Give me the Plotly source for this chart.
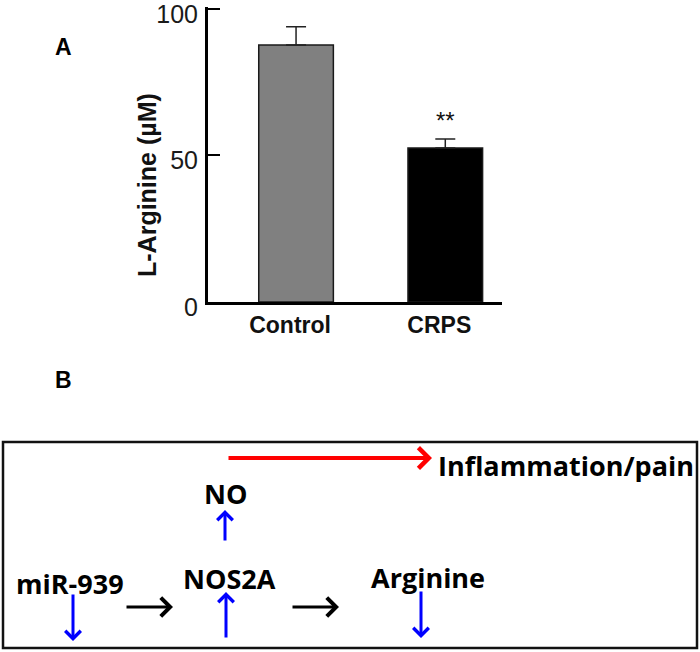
import plotly.graph_objects as go

# ---------------- data ----------------
categories = ["Control", "CRPS"]
values = [87.7, 52.6]
errors_up = [6.2, 3.0]
bar_colors = ["#808080", "#000000"]
y_tickvals = [0, 50, 100]
y_ticktext = ["0", "50", "100"]
y_title = "L-Arginine (µM)"
significance = "**"

W, H = 700, 652
ML, MR, MT, MB = 0, 0, 0, 0

def px(x):
    return (x - ML) / (W - ML - MR)

def py(y):
    return 1 - (y - MT) / (H - MT - MB)

fig = go.Figure()

fig.add_trace(go.Bar(
    x=categories,
    y=values,
    width=0.5,
    marker=dict(color=bar_colors, line=dict(color="#1a1a1a", width=1.5)),
    error_y=dict(type="data", array=errors_up, arrayminus=[0, 0], symmetric=False,
                 color="#222222", thickness=1.5, width=10),
    showlegend=False,
))

axis_font = dict(family="Liberation Sans, Arial, sans-serif", color="#1a1a1a")

y_top_val = 100.7
y0_px, y100_px = 302, 9
ytop_px = y0_px - (y0_px - y100_px) * y_top_val / 100

fig.update_layout(
    width=W, height=H,
    margin=dict(l=ML, r=MR, t=MT, b=MB),
    paper_bgcolor="white", plot_bgcolor="white",
    xaxis=dict(
        domain=[px(208), px(502)],
        range=[-0.59, 1.38],
        showline=True, linecolor="#000000", linewidth=3,
        ticks="", showgrid=False, zeroline=False,
        tickfont=dict(size=23, family="Liberation Sans, Arial, sans-serif", color="#111111", weight="bold"),
        ticklabelstandoff=0, ticklabelshift=-6,
        automargin=False,
    ),
    yaxis=dict(
        domain=[py(y0_px), min(1.0, py(ytop_px))],
        range=[0, y_top_val],
        showline=True, linecolor="#000000", linewidth=3,
        ticks="inside", ticklen=12, tickwidth=2, tickcolor="#000000",
        tickvals=y_tickvals, ticktext=y_ticktext,
        tickfont=dict(size=25, **axis_font),
        ticklabeloverflow="allow",
        showgrid=False, zeroline=False,
        ticklabelstandoff=2, ticklabelshift=5,
        automargin=False,
    ),
)

annotations = []
annotations.append(dict(text=f"<b>{y_title}</b>", xref="paper", yref="paper",
                        x=px(147), y=py(185), textangle=-90, showarrow=False,
                        xanchor="center", yanchor="middle",
                        font=dict(size=25, family="Liberation Sans, Arial, sans-serif", color="#111111")))
annotations.append(dict(text=significance, xref="x", yref="y", x="CRPS", y=62,
                        showarrow=False, xanchor="center", yanchor="middle",
                        font=dict(size=24, family="Liberation Sans, Arial, sans-serif", color="#111111")))
for letter, (lx, ly) in {"A": (63, 47), "B": (63, 380)}.items():
    annotations.append(dict(text=f"<b>{letter}</b>", xref="paper", yref="paper",
                            x=px(lx), y=py(ly), showarrow=False,
                            xanchor="center", yanchor="middle",
                            font=dict(size=23, family="Liberation Sans, Arial, sans-serif", color="#000000")))

# ---------------- panel B diagram ----------------
diag_font = "Open Sans, Calibri, sans-serif"
diagram_labels = [
    ("miR-939", 69.5, 583, "center"),
    ("NOS2A", 229.5, 578.5, "center"),
    ("Arginine", 427.5, 577, "center"),
    ("NO", 225.5, 493.5, "center"),
    ("Inflammation/pain", 436, 465, "left"),
]
for txt, tx, ty, anc in diagram_labels:
    annotations.append(dict(text=f"<b>{txt}</b>", xref="paper", yref="paper",
                            x=px(tx), y=py(ty), showarrow=False,
                            xanchor=anc, yanchor="middle",
                            font=dict(size=27, family=diag_font, color="#000000")))

def arrow(x0, y0, x1, y1, color, width, size=1.0):
    return dict(text="", xref="paper", yref="paper", x=px(x1), y=py(y1),
                axref="pixel", ayref="pixel", ax=x0 - x1, ay=y0 - y1,
                showarrow=True, arrowhead=4, arrowsize=size, arrowwidth=width,
                arrowcolor=color, standoff=0, startstandoff=0)

annotations.append(arrow(227, 458, 432, 458, "#FF0000", 4, 1.0))
annotations.append(arrow(125, 607, 173, 607, "#000000", 3, 1.2))
annotations.append(arrow(291, 607, 339, 607, "#000000", 3, 1.2))
annotations.append(arrow(73, 593, 73, 641, "#0000FF", 3, 1.0))
annotations.append(arrow(226, 639, 226, 592, "#0000FF", 3, 1.0))
annotations.append(arrow(225, 542, 225, 510, "#0000FF", 3, 1.0))
annotations.append(arrow(421, 590, 421, 638, "#0000FF", 3, 1.0))

fig.update_layout(annotations=annotations)

fig.add_shape(type="rect", xref="paper", yref="paper",
              x0=px(3), x1=px(697), y0=py(648), y1=py(442),
              line=dict(color="#111111", width=2.5))

fig.write_html("out.html", config={"displayModeBar": False},
               post_script="document.body.style.margin='0';")
